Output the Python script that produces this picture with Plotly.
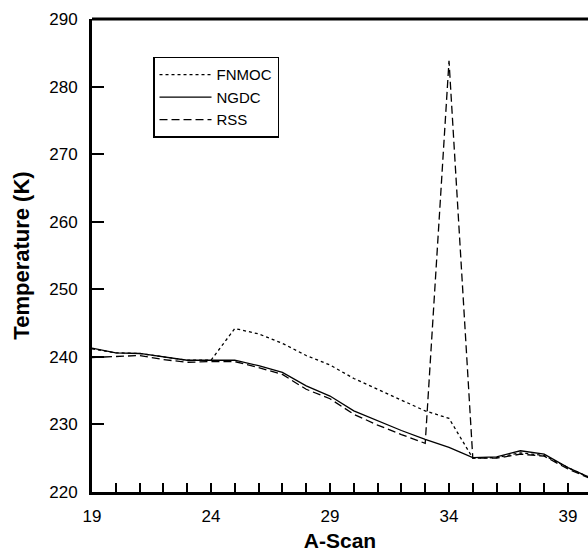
import plotly.graph_objects as go

a_scan = [19, 20, 21, 22, 23, 24, 25, 26, 27, 28, 29, 30, 31, 32, 33, 34, 35, 36, 37, 38, 39, 40]
fnmoc = [241.2, 240.6, 240.5, 240.0, 239.5, 239.5, 244.2, 243.4, 242.0, 240.2, 238.8, 236.8, 235.2, 233.6, 232.0, 230.9, 225.0, 225.1, 225.8, 225.4, 223.6, 222.0]
ngdc = [241.3, 240.6, 240.5, 240.0, 239.5, 239.5, 239.5, 238.7, 237.7, 235.7, 234.2, 232.0, 230.5, 229.1, 227.8, 226.6, 225.1, 225.2, 226.1, 225.6, 223.6, 222.0]
rss = [239.9, 240.1, 240.2, 239.6, 239.2, 239.3, 239.3, 238.4, 237.4, 235.2, 233.8, 231.5, 229.9, 228.5, 227.2, 283.8, 225.0, 225.0, 225.6, 225.3, 223.4, 221.9]

fig = go.Figure()
fig.add_trace(go.Scatter(x=a_scan, y=fnmoc, mode="lines", name="FNMOC",
                         line=dict(color="black", width=1.3, dash="3px,3px")))
fig.add_trace(go.Scatter(x=a_scan, y=ngdc, mode="lines", name="NGDC",
                         line=dict(color="black", width=1.3)))
fig.add_trace(go.Scatter(x=a_scan, y=rss, mode="lines", name="RSS",
                         line=dict(color="black", width=1.3, dash="8px,4px")))

fig.update_layout(
    width=588, height=552,
    margin=dict(l=92, r=0, t=19, b=60, autoexpand=False),
    paper_bgcolor="white", plot_bgcolor="white",
    font=dict(family="Liberation Sans, Arial, sans-serif", color="black", size=17),
    showlegend=True,
    legend=dict(x=0.123, y=0.92, xanchor="left", yanchor="top",
                bordercolor="black", borderwidth=1.5, bgcolor="white",
                font=dict(size=15), itemwidth=52),
    shapes=[dict(type="line", xref="paper", yref="paper", x0=0, x1=1, y0=1, y1=1,
                 line=dict(color="black", width=3))],
)
fig.update_xaxes(
    range=[19, 39.84], showgrid=False, zeroline=False,
    showline=True, linecolor="black", linewidth=3,
    tick0=19, dtick=5, ticks="inside", ticklen=9, tickwidth=1.5, tickcolor="black",
    minor=dict(dtick=1, tick0=19, ticks="inside", ticklen=9, tickwidth=1.5, tickcolor="black"),
    title=dict(text="<b>A-Scan</b>", font=dict(size=21), standoff=9),
    tickfont=dict(size=17), ticklabelstandoff=7, automargin=False,
)
fig.update_yaxes(
    range=[220, 290], showgrid=False, zeroline=False,
    showline=True, linecolor="black", linewidth=3,
    tick0=220, dtick=10, ticks="inside", ticklen=12, tickwidth=2, tickcolor="black",
    title=dict(text="<b>Temperature (K)</b>", font=dict(size=22), standoff=14),
    tickfont=dict(size=17), ticklabelstandoff=8, automargin=False,
)

fig.write_html(
    "out.html",
    config={"displayModeBar": False},
    post_script="document.body.style.margin='0';document.body.style.overflow='hidden';",
)
